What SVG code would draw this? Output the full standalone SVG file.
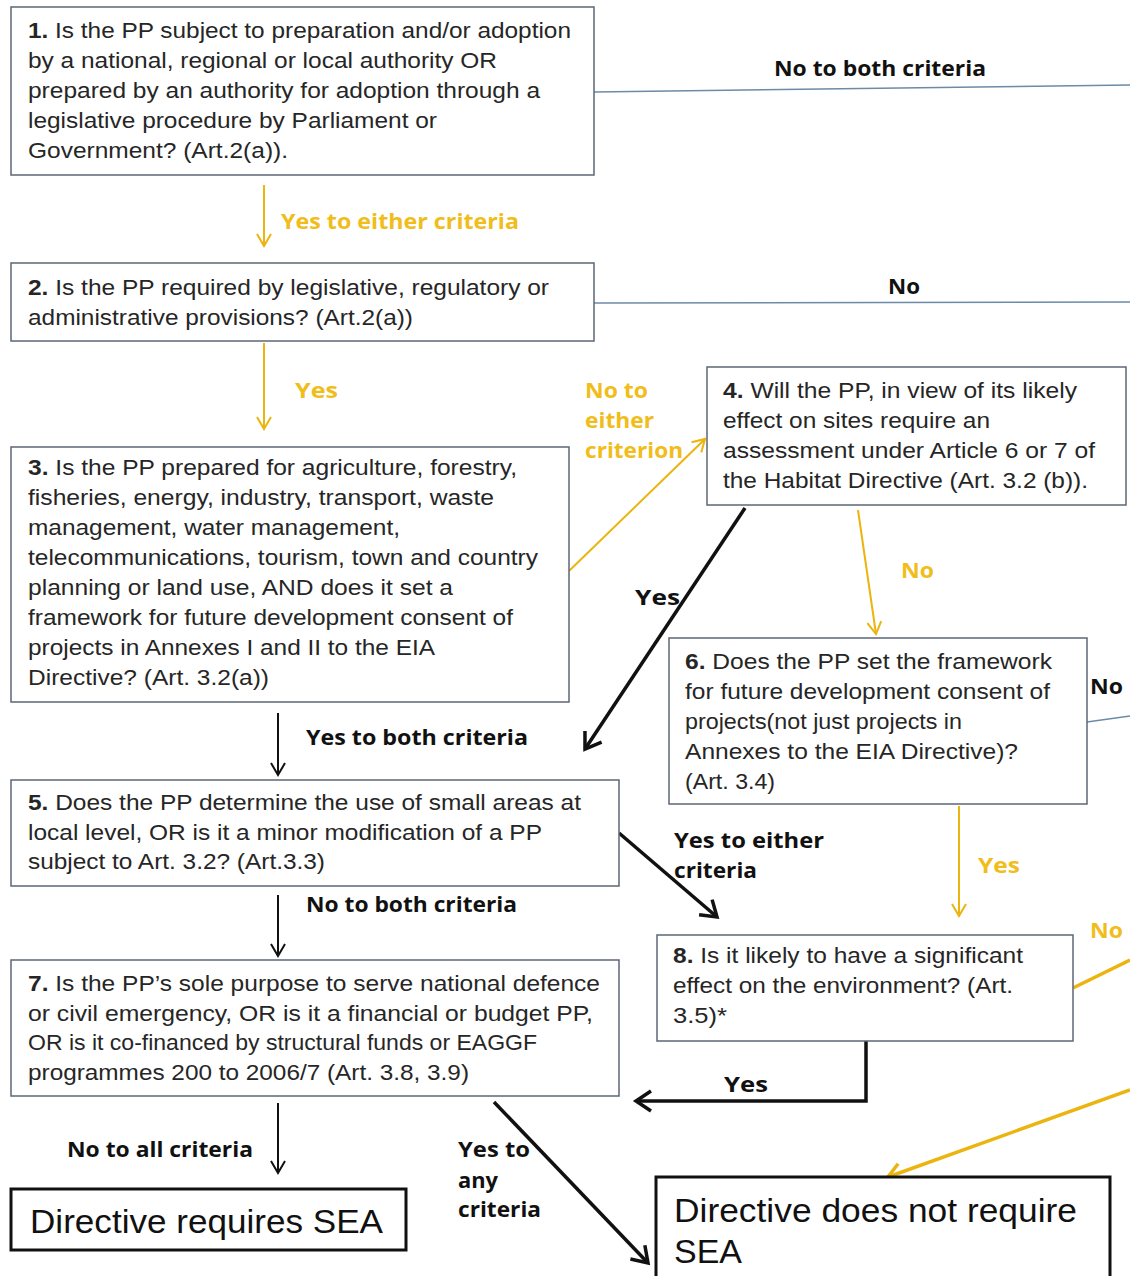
<svg xmlns="http://www.w3.org/2000/svg" width="1130" height="1276" viewBox="0 0 1130 1276">
<defs>
<style>
.box{fill:#fff;stroke:#5b6775;stroke-width:1.5}
.fin{fill:#fff;stroke:#111;stroke-width:3}
.t{font-family:"Liberation Sans",Arial,sans-serif;font-size:22px;fill:#262626}
.t tspan.b{font-weight:bold}
.ft{font-family:"Liberation Sans",Arial,sans-serif;font-size:33px;fill:#111}
.lb{font-family:"Open Sans","Liberation Sans",sans-serif;font-size:21px;font-weight:bold;fill:#111}
.lo{font-family:"Open Sans","Liberation Sans",sans-serif;font-size:21px;font-weight:bold;fill:#f0bd1a}
.co{fill:none;stroke:#ebb40f;stroke-width:2}
.cot{fill:none;stroke:#ebb40f;stroke-width:3.5}
.ck{fill:none;stroke:#111;stroke-width:2}
.ckt{fill:none;stroke:#111;stroke-width:3.5}
.cb{fill:none;stroke:#6d8aa8;stroke-width:1.5}
</style>
<marker id="ao" markerUnits="userSpaceOnUse" markerWidth="20" markerHeight="20" viewBox="0 0 20 20" refX="17" refY="10" orient="auto"><path d="M5,3 L17,10 L5,17" fill="none" stroke="#ebb40f" stroke-width="2"/></marker>
<marker id="aot" markerUnits="userSpaceOnUse" markerWidth="26" markerHeight="26" viewBox="0 0 26 26" refX="22" refY="13" orient="auto"><path d="M8,4 L22,13 L8,22" fill="none" stroke="#ebb40f" stroke-width="3.5"/></marker>
<marker id="ak" markerUnits="userSpaceOnUse" markerWidth="20" markerHeight="20" viewBox="0 0 20 20" refX="17" refY="10" orient="auto"><path d="M5,3 L17,10 L5,17" fill="none" stroke="#111" stroke-width="2"/></marker>
<marker id="akt" markerUnits="userSpaceOnUse" markerWidth="28" markerHeight="28" viewBox="0 0 28 28" refX="24" refY="14" orient="auto"><path d="M9,4 L24,14 L9,24" fill="none" stroke="#111" stroke-width="3.5"/></marker>
</defs>
<rect width="1130" height="1276" fill="#fff"/>

<g id="connectors">
<line class="co" x1="264" y1="185" x2="264" y2="246" marker-end="url(#ao)"/>
<line class="co" x1="264" y1="343" x2="264" y2="429" marker-end="url(#ao)"/>
<line class="co" x1="569" y1="571" x2="705" y2="439" marker-end="url(#ao)"/>
<line class="ckt" x1="745" y1="508" x2="585" y2="749" marker-end="url(#akt)"/>
<line class="co" x1="858" y1="510" x2="876" y2="634" marker-end="url(#ao)"/>
<line class="ck" x1="278" y1="713" x2="278" y2="775" marker-end="url(#ak)"/>
<line class="ck" x1="278" y1="895" x2="278" y2="956" marker-end="url(#ak)"/>
<line class="ckt" x1="619" y1="833" x2="717" y2="917" marker-end="url(#akt)"/>
<line class="co" x1="959" y1="806" x2="959" y2="916" marker-end="url(#ao)"/>
<line class="cb" x1="594" y1="92" x2="1130" y2="85"/>
<line class="cb" x1="594" y1="303" x2="1130" y2="302"/>
<line class="cb" x1="1087" y1="722" x2="1130" y2="716"/>
<line class="cot" x1="1073" y1="988" x2="1130" y2="960"/>
<line class="cot" x1="1130" y1="1090" x2="888" y2="1177" marker-end="url(#aot)"/>
<polyline class="ckt" points="866,1041 866,1101 636,1101" marker-end="url(#akt)"/>
<line class="ckt" x1="494" y1="1102" x2="648" y2="1263" marker-end="url(#akt)"/>
<line class="ck" x1="278" y1="1103" x2="278" y2="1173" marker-end="url(#ak)"/>
</g>

<g id="labels">
<text class="lo" x="281" y="229" textLength="238" lengthAdjust="spacingAndGlyphs">Yes to either criteria</text>
<text class="lb" x="774" y="76" textLength="212" lengthAdjust="spacingAndGlyphs">No to both criteria</text>
<text class="lb" x="888" y="294" textLength="32" lengthAdjust="spacingAndGlyphs">No</text>
<text class="lo" x="295" y="398" textLength="43" lengthAdjust="spacingAndGlyphs">Yes</text>
<text class="lo" x="585" y="398" textLength="63" lengthAdjust="spacingAndGlyphs">No to</text>
<text class="lo" x="585" y="428" textLength="69" lengthAdjust="spacingAndGlyphs">either</text>
<text class="lo" x="585" y="458" textLength="98" lengthAdjust="spacingAndGlyphs">criterion</text>
<text class="lb" x="635" y="605" textLength="45" lengthAdjust="spacingAndGlyphs">Yes</text>
<text class="lo" x="901" y="578" textLength="33" lengthAdjust="spacingAndGlyphs">No</text>
<text class="lb" x="1090" y="694" textLength="33" lengthAdjust="spacingAndGlyphs">No</text>
<text class="lb" x="306" y="745" textLength="222" lengthAdjust="spacingAndGlyphs">Yes to both criteria</text>
<text class="lb" x="674" y="848" textLength="150" lengthAdjust="spacingAndGlyphs">Yes to either</text>
<text class="lb" x="674" y="878" textLength="83" lengthAdjust="spacingAndGlyphs">criteria</text>
<text class="lb" x="306" y="912" textLength="211" lengthAdjust="spacingAndGlyphs">No to both criteria</text>
<text class="lo" x="978" y="873" textLength="42" lengthAdjust="spacingAndGlyphs">Yes</text>
<text class="lo" x="1090" y="938" textLength="33" lengthAdjust="spacingAndGlyphs">No</text>
<text class="lb" x="724" y="1092" textLength="44" lengthAdjust="spacingAndGlyphs">Yes</text>
<text class="lb" x="67" y="1157" textLength="186" lengthAdjust="spacingAndGlyphs">No to all criteria</text>
<text class="lb" x="458" y="1157" textLength="72" lengthAdjust="spacingAndGlyphs">Yes to</text>
<text class="lb" x="458" y="1188" textLength="40" lengthAdjust="spacingAndGlyphs">any</text>
<text class="lb" x="458" y="1217" textLength="83" lengthAdjust="spacingAndGlyphs">criteria</text>
</g>

<g id="node1">
<rect class="box" x="11" y="7" width="583" height="168"/>
<text class="t" x="28" y="38" textLength="543" lengthAdjust="spacingAndGlyphs"><tspan class="b">1.</tspan> Is the PP subject to preparation and/or adoption</text>
<text class="t" x="28" y="68" textLength="469" lengthAdjust="spacingAndGlyphs">by a national, regional or local authority OR</text>
<text class="t" x="28" y="98" textLength="512" lengthAdjust="spacingAndGlyphs">prepared by an authority for adoption through a</text>
<text class="t" x="28" y="128" textLength="409" lengthAdjust="spacingAndGlyphs">legislative procedure by Parliament or</text>
<text class="t" x="28" y="158" textLength="260" lengthAdjust="spacingAndGlyphs">Government? (Art.2(a)).</text>
</g>

<g id="node2">
<rect class="box" x="11" y="263" width="583" height="78"/>
<text class="t" x="28" y="295" textLength="521" lengthAdjust="spacingAndGlyphs"><tspan class="b">2.</tspan> Is the PP required by legislative, regulatory or</text>
<text class="t" x="28" y="325" textLength="385" lengthAdjust="spacingAndGlyphs">administrative provisions? (Art.2(a))</text>
</g>

<g id="node3">
<rect class="box" x="11" y="447" width="558" height="255"/>
<text class="t" x="28" y="475" textLength="489" lengthAdjust="spacingAndGlyphs"><tspan class="b">3.</tspan> Is the PP prepared for agriculture, forestry,</text>
<text class="t" x="28" y="505" textLength="466" lengthAdjust="spacingAndGlyphs">fisheries, energy, industry, transport, waste</text>
<text class="t" x="28" y="535" textLength="372" lengthAdjust="spacingAndGlyphs">management, water management,</text>
<text class="t" x="28" y="565" textLength="510" lengthAdjust="spacingAndGlyphs">telecommunications, tourism, town and country</text>
<text class="t" x="28" y="595" textLength="425" lengthAdjust="spacingAndGlyphs">planning or land use, AND does it set a</text>
<text class="t" x="28" y="625" textLength="485" lengthAdjust="spacingAndGlyphs">framework for future development consent of</text>
<text class="t" x="28" y="655" textLength="407" lengthAdjust="spacingAndGlyphs">projects in Annexes I and II to the EIA</text>
<text class="t" x="28" y="685" textLength="241" lengthAdjust="spacingAndGlyphs">Directive? (Art. 3.2(a))</text>
</g>

<g id="node4">
<rect class="box" x="707" y="367" width="419" height="138"/>
<text class="t" x="723" y="398" textLength="354" lengthAdjust="spacingAndGlyphs"><tspan class="b">4.</tspan> Will the PP, in view of its likely</text>
<text class="t" x="723" y="428" textLength="267" lengthAdjust="spacingAndGlyphs">effect on sites require an</text>
<text class="t" x="723" y="458" textLength="372" lengthAdjust="spacingAndGlyphs">assessment under Article 6 or 7 of</text>
<text class="t" x="723" y="488" textLength="365" lengthAdjust="spacingAndGlyphs">the Habitat Directive (Art. 3.2 (b)).</text>
</g>

<g id="node5">
<rect class="box" x="11" y="780" width="608" height="106"/>
<text class="t" x="28" y="810" textLength="553" lengthAdjust="spacingAndGlyphs"><tspan class="b">5.</tspan> Does the PP determine the use of small areas at</text>
<text class="t" x="28" y="840" textLength="514" lengthAdjust="spacingAndGlyphs">local level,  OR is it a minor modification of a PP</text>
<text class="t" x="28" y="869" textLength="297" lengthAdjust="spacingAndGlyphs">subject to Art. 3.2? (Art.3.3)</text>
</g>

<g id="node6">
<rect class="box" x="669" y="638" width="418" height="166"/>
<text class="t" x="685" y="669" textLength="367" lengthAdjust="spacingAndGlyphs"><tspan class="b">6.</tspan> Does the PP set the framework</text>
<text class="t" x="685" y="699" textLength="365" lengthAdjust="spacingAndGlyphs">for future development consent of</text>
<text class="t" x="685" y="729" textLength="277" lengthAdjust="spacingAndGlyphs">projects(not just projects in</text>
<text class="t" x="685" y="759" textLength="333" lengthAdjust="spacingAndGlyphs">Annexes to the EIA Directive)?</text>
<text class="t" x="685" y="789" textLength="90" lengthAdjust="spacingAndGlyphs">(Art. 3.4)</text>
</g>

<g id="node7">
<rect class="box" x="11" y="960" width="608" height="136"/>
<text class="t" x="28" y="991" textLength="572" lengthAdjust="spacingAndGlyphs"><tspan class="b">7.</tspan> Is the PP’s sole purpose to serve national defence</text>
<text class="t" x="28" y="1021" textLength="565" lengthAdjust="spacingAndGlyphs">or civil emergency, OR is it a financial or budget PP,</text>
<text class="t" x="28" y="1050" textLength="509" lengthAdjust="spacingAndGlyphs">OR is it co-financed by structural funds or EAGGF</text>
<text class="t" x="28" y="1080" textLength="441" lengthAdjust="spacingAndGlyphs">programmes 200 to 2006/7 (Art. 3.8, 3.9)</text>
</g>

<g id="node8">
<rect class="box" x="657" y="935" width="416" height="106"/>
<text class="t" x="673" y="963" textLength="350" lengthAdjust="spacingAndGlyphs"><tspan class="b">8.</tspan> Is it likely to have a significant</text>
<text class="t" x="673" y="993" textLength="340" lengthAdjust="spacingAndGlyphs">effect on the environment? (Art.</text>
<text class="t" x="673" y="1023" textLength="54" lengthAdjust="spacingAndGlyphs">3.5)*</text>
</g>

<g id="node-requires">
<rect class="fin" x="11" y="1189" width="395" height="61"/>
<text class="ft" x="30" y="1233" textLength="353" lengthAdjust="spacingAndGlyphs">Directive requires SEA</text>
</g>

<g id="node-not-requires">
<rect class="fin" x="656" y="1177" width="454" height="110"/>
<text class="ft" x="674" y="1222" textLength="403" lengthAdjust="spacingAndGlyphs">Directive does not require</text>
<text class="ft" x="674" y="1263" textLength="68" lengthAdjust="spacingAndGlyphs">SEA</text>
</g>
</svg>
